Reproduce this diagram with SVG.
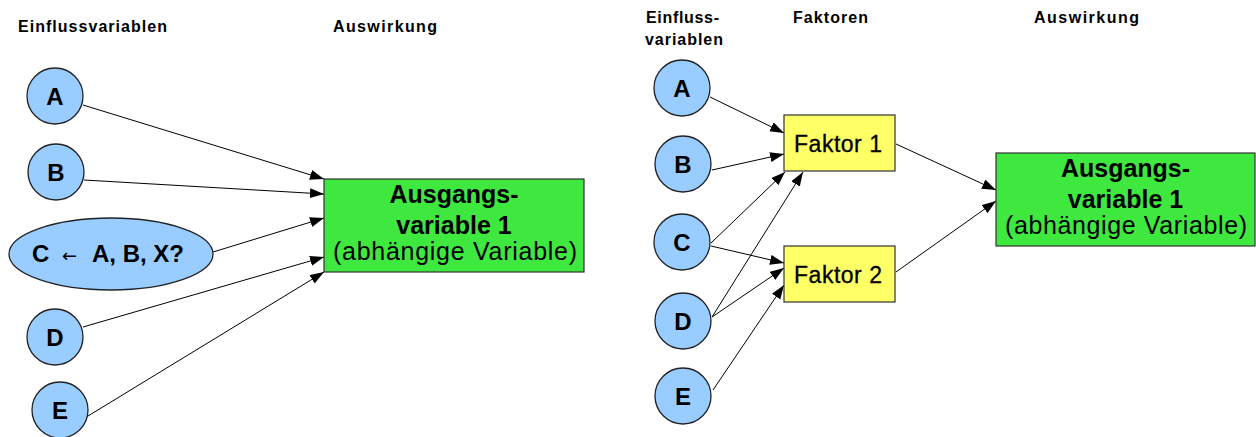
<svg xmlns="http://www.w3.org/2000/svg" width="1256" height="437" viewBox="0 0 1256 437">
  <defs>
    <marker id="arrow" markerUnits="userSpaceOnUse" markerWidth="15" markerHeight="11" refX="14" refY="5" orient="auto">
      <path d="M0,0 L14,5 L0,10 z" fill="#000"/>
    </marker>
    <style>
      .hdr { font-family: "Liberation Sans", Arial, sans-serif; font-weight: bold; font-size: 16px; letter-spacing: 1px; fill: #000; }
      .var { fill: #99ccff; stroke: #222; stroke-width: 1.3; }
      .lbl { font-family: "Liberation Sans", Arial, sans-serif; font-weight: bold; font-size: 24px; fill: #000; text-anchor: middle; }
      .out { fill: #3fe83f; stroke: #333; stroke-width: 1.2; }
      .fac { fill: #ffff66; stroke: #333; stroke-width: 1.2; }
      .ttl { font-family: "Liberation Sans", Arial, sans-serif; font-weight: bold; font-size: 25px; fill: #000; text-anchor: middle; }
      .sub { font-family: "Liberation Sans", Arial, sans-serif; font-size: 25px; fill: #000; text-anchor: middle; }
      .ftx { font-family: "Liberation Sans", Arial, sans-serif; font-size: 23px; fill: #000; stroke: #000; stroke-width: 0.3; text-anchor: middle; }
      .edge { stroke: #000; stroke-width: 1; fill: none; marker-end: url(#arrow); }
    </style>
  </defs>
  <rect width="1256" height="437" fill="#fff"/>

  <!-- Left model: direct influence -->
  <g id="left-headers">
    <text class="hdr" x="18" y="32" textLength="150" lengthAdjust="spacing">Einflussvariablen</text>
    <text class="hdr" x="333" y="32" textLength="105" lengthAdjust="spacing">Auswirkung</text>
  </g>

  <g id="left-connectors">
    <line class="edge" x1="83" y1="105" x2="324" y2="179"/>
    <line class="edge" x1="84" y1="180" x2="324" y2="194"/>
    <line class="edge" x1="213" y1="252" x2="324" y2="218"/>
    <line class="edge" x1="83" y1="327" x2="324" y2="257"/>
    <line class="edge" x1="88" y1="416" x2="324" y2="272"/>
  </g>

  <g id="left-A">
    <circle class="var" cx="55" cy="96" r="28"/>
    <text class="lbl" x="55" y="104.5">A</text>
  </g>
  <g id="left-B">
    <circle class="var" cx="56" cy="172" r="28"/>
    <text class="lbl" x="56" y="180.5">B</text>
  </g>
  <g id="left-C">
    <ellipse class="var" cx="111" cy="254" rx="102" ry="36"/>
    <text class="lbl" x="32" y="262" style="text-anchor:start">C<tspan x="62" font-weight="normal" font-size="18" font-family="DejaVu Sans, sans-serif">←</tspan><tspan x="92">A, B, X?</tspan></text>
  </g>
  <g id="left-D">
    <circle class="var" cx="55" cy="337" r="28"/>
    <text class="lbl" x="55" y="345.5">D</text>
  </g>
  <g id="left-E">
    <circle class="var" cx="60" cy="410" r="28"/>
    <text class="lbl" x="60" y="418.5">E</text>
  </g>

  <g id="left-output">
    <rect class="out" x="324" y="179" width="260" height="93"/>
    <text class="ttl" x="454" y="203">Ausgangs-</text>
    <text class="ttl" x="454" y="234">variable 1</text>
    <text class="sub" x="455" y="260" textLength="244" lengthAdjust="spacing">(abhängige Variable)</text>
  </g>

  <!-- Right model: influence through factors -->
  <g id="right-headers">
    <text class="hdr" x="646" y="23" textLength="74" lengthAdjust="spacing">Einfluss-</text>
    <text class="hdr" x="645" y="45" textLength="79" lengthAdjust="spacing">variablen</text>
    <text class="hdr" x="793" y="23" textLength="76" lengthAdjust="spacing">Faktoren</text>
    <text class="hdr" x="1034" y="23" textLength="106" lengthAdjust="spacing">Auswirkung</text>
  </g>

  <g id="right-connectors">
    <line class="edge" x1="710" y1="97" x2="784" y2="133"/>
    <line class="edge" x1="712" y1="170" x2="784" y2="154"/>
    <line class="edge" x1="711" y1="243" x2="785" y2="172"/>
    <line class="edge" x1="712" y1="317" x2="803" y2="172"/>
    <line class="edge" x1="711" y1="246" x2="784" y2="263"/>
    <line class="edge" x1="712" y1="317" x2="784" y2="268"/>
    <line class="edge" x1="713" y1="390" x2="784" y2="285"/>
    <line class="edge" x1="896" y1="144" x2="996" y2="190"/>
    <line class="edge" x1="896" y1="272" x2="996" y2="201"/>
  </g>

  <g id="right-A">
    <circle class="var" cx="682" cy="88" r="28"/>
    <text class="lbl" x="682" y="96.5">A</text>
  </g>
  <g id="right-B">
    <circle class="var" cx="683" cy="164" r="28"/>
    <text class="lbl" x="683" y="172.5">B</text>
  </g>
  <g id="right-C">
    <circle class="var" cx="682" cy="242" r="28"/>
    <text class="lbl" x="682" y="250.5">C</text>
  </g>
  <g id="right-D">
    <circle class="var" cx="683" cy="321" r="28"/>
    <text class="lbl" x="683" y="329.5">D</text>
  </g>
  <g id="right-E">
    <circle class="var" cx="683" cy="396" r="28"/>
    <text class="lbl" x="683" y="404.5">E</text>
  </g>

  <g id="factor-1">
    <rect class="fac" x="784" y="115" width="111" height="56"/>
    <text class="ftx" x="838" y="152" textLength="88" lengthAdjust="spacing">Faktor 1</text>
  </g>
  <g id="factor-2">
    <rect class="fac" x="784" y="246" width="111" height="56"/>
    <text class="ftx" x="838" y="283" textLength="88" lengthAdjust="spacing">Faktor 2</text>
  </g>

  <g id="right-output">
    <rect class="out" x="996" y="153" width="259" height="93"/>
    <text class="ttl" x="1125.5" y="177">Ausgangs-</text>
    <text class="ttl" x="1125.5" y="208">variable 1</text>
    <text class="sub" x="1126" y="234" textLength="242" lengthAdjust="spacing">(abhängige Variable)</text>
  </g>
</svg>
